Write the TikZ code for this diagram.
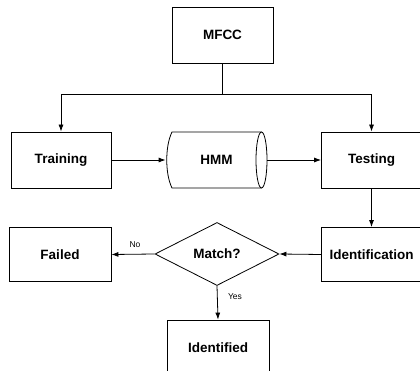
\documentclass[tikz,border=0pt]{standalone}
\usepackage{fontspec}
\setmainfont{Liberation Sans}
\usetikzlibrary{arrows.meta,shapes.geometric}
\begin{document}
\begin{tikzpicture}[x=1pt,y=-1pt, line width=0.8pt,
  box/.style={draw, rectangle, minimum width=100pt, minimum height=56pt, inner sep=0pt,
    font=\fontsize{13.5}{16}\selectfont\bfseries},
  dia/.style={draw, diamond, aspect=1.97, minimum width=124pt, minimum height=63pt, inner sep=0pt,
    font=\fontsize{13.5}{16}\selectfont\bfseries},
  lbl/.style={font=\fontsize{8.5}{10}\selectfont, inner sep=0pt},
  arr/.style={-{Latex[length=7pt,width=5pt]}}]
\useasboundingbox (0,0) rectangle (420,371);
\clip (0,0) rectangle (420,371);
\node[box, minimum width=101pt] (mfcc) at (222.5,35) {MFCC};
\node[box] (training) at (61,160) {Training};
\node[rectangle, minimum width=101pt, minimum height=56pt, inner sep=0pt,
  font=\fontsize{13.5}{16}\selectfont\bfseries] (hmm) at (216.5,160) {HMM};
\draw (261.5,132) -- (172,132) .. controls (165,146) and (165,174) .. (172,188) -- (261.5,188);
\draw (261.5,160) ellipse [x radius=5.5, y radius=28];
\node[box] (testing) at (371.5,160) {Testing};
\node[box, minimum height=54pt] (ident) at (371.5,254.5) {Identification};
\node[dia] (match) at (217,254) {Match?};
\node[box, minimum width=102pt, minimum height=54pt] (failed) at (60,254.5) {Failed};
\node[box, minimum width=102pt] (identified) at (218,348) {Identified};
\coordinate (split) at (222.5,94);
\draw (mfcc.south) -- (split);
\draw[arr] (split) -| (training.north);
\draw[arr] (split) -| (testing.north);
\draw[arr] (training.east) -- (hmm.west);
\draw[arr] (hmm.east) -- (testing.west);
\draw[arr] (testing.south) -- (ident.north);
\draw[arr] (ident.west) -- (match.east);
\draw[arr] (match.west) -- (failed.east);
\draw[arr] (match.south) -- (identified.north);
\node[lbl] (no) at (135,245) {No};
\node[lbl] (yes) at (235,297) {Yes};
\end{tikzpicture}
\end{document}
